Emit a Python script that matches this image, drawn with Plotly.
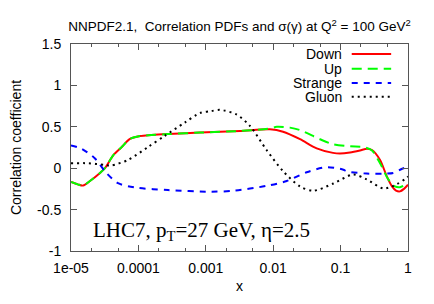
import plotly.graph_objects as go

down_x = [1e-05, 1.26e-05, 1.51e-05, 1.91e-05, 2.69e-05, 3.19e-05, 4.25e-05, 5.57e-05,
          7.5e-05, 0.000106, 0.000155, 0.000275, 0.00082, 0.00324, 0.00897, 0.0140,
          0.0250, 0.0442, 0.0771, 0.098, 0.138, 0.194, 0.247, 0.292, 0.385, 0.483,
          0.579, 0.664, 0.760, 0.871, 1.0]
down_y = [-0.167, -0.195, -0.21, -0.155, -0.057, 0.0, 0.158, 0.25,
          0.353, 0.388, 0.400, 0.412, 0.43, 0.45, 0.47, 0.44,
          0.35, 0.24, 0.185, 0.177, 0.19, 0.215, 0.236, 0.22, 0.10, -0.096,
          -0.22, -0.27, -0.28, -0.25, -0.2]

up_x = [1e-05, 1.26e-05, 1.51e-05, 1.91e-05, 2.69e-05, 3.19e-05, 4.25e-05, 5.57e-05,
        7.5e-05, 0.000106, 0.000155, 0.000275, 0.00082, 0.00324, 0.00897, 0.0113,
        0.0177, 0.0250, 0.0494, 0.0771, 0.138, 0.217, 0.289, 0.385, 0.510,
        0.641, 0.760, 0.957, 1.0]
up_y = [-0.167, -0.195, -0.21, -0.155, -0.057, 0.0, 0.158, 0.25,
        0.353, 0.388, 0.400, 0.412, 0.43, 0.45, 0.48, 0.50,
        0.49, 0.46, 0.35, 0.29, 0.264, 0.256, 0.217, 0.06, -0.135,
        -0.22, -0.23, -0.19, -0.18]

strange_x = [1e-05, 1.42e-05, 2.25e-05, 3.34e-05, 4.98e-05, 8.81e-05, 0.000275,
             0.00121, 0.00256, 0.00802, 0.0159, 0.0314, 0.0622, 0.110, 0.123,
             0.244, 0.431, 0.605, 0.805, 1.0]
strange_y = [0.276, 0.236, 0.12, -0.057, -0.18, -0.233, -0.264,
             -0.284, -0.272, -0.213, -0.155, -0.049, 0.012, -0.018, -0.038,
             -0.065, -0.065, -0.057, -0.01, 0.02]

gluon_x = [1e-05, 1.79e-05, 3.16e-05, 3.96e-05, 7.02e-05, 0.000139, 0.000245,
           0.000486, 0.00082, 0.00121, 0.00163, 0.00287, 0.00453, 0.00802, 0.0141,
           0.025, 0.0394, 0.078, 0.154, 0.244, 0.431, 0.679, 0.957, 1.0]
gluon_y = [0.06, 0.06, 0.04, 0.033, 0.1, 0.256, 0.39,
           0.55, 0.667, 0.69, 0.705, 0.647, 0.51, 0.217, -0.038,
           -0.22, -0.272, -0.185, -0.076, -0.135, -0.245, -0.194, -0.116, -0.1]

series_names = ["Down", "Up", "Strange", "Gluon"]
series_colors = ["#ff0000", "#00ff00", "#0000ff", "#000000"]
series_dash = ["solid", "10px,6px", "6px,6px", "2px,4px"]

x_tickvals = [1e-05, 1e-04, 1e-03, 1e-02, 1e-01, 1]
x_ticktext = ["1e-05", "0.0001", "0.001", "0.01", "0.1", "1"]
y_tickvals = [-1, -0.5, 0, 0.5, 1, 1.5]
y_ticktext = ["-1", "-0.5", "0", "0.5", "1", "1.5"]

xs = [down_x, up_x, strange_x, gluon_x]
ys = [down_y, up_y, strange_y, gluon_y]

SANS = "Liberation Sans, Arial, sans-serif"
fig = go.Figure()
for name, x, y, c, d in zip(series_names, xs, ys, series_colors, series_dash):
    fig.add_trace(go.Scatter(x=x, y=y, mode="lines", name=name, showlegend=False,
                             line=dict(color=c, dash=d, width=2, shape="spline", smoothing=0.8)))

# Gnuplot-style legend: text right-aligned, sample line to its right
leg_y = [0.952, 0.881, 0.812, 0.745]
for name, c, d, ly in zip(series_names, series_colors, series_dash, leg_y):
    fig.add_annotation(x=0.806, y=ly, xref="paper", yref="paper", text=name,
                       showarrow=False, xanchor="right", yanchor="middle", borderpad=0,
                       font=dict(family=SANS, size=14, color="black"))
    fig.add_shape(type="line", xref="paper", yref="paper", x0=0.833, x1=0.950, y0=ly, y1=ly,
                  line=dict(color=c, dash=d, width=2))

fig.add_annotation(x=0.058, y=0.095, xref="paper", yref="paper",
                   text="LHC7, p<sub>T</sub>=27 GeV, η=2.5", showarrow=False,
                   xanchor="left", yanchor="middle",
                   font=dict(family="Liberation Serif, Times New Roman, serif", size=21, color="black"))

axis_common = dict(showline=True, linecolor="#555555", linewidth=1, mirror="ticks",
                   ticks="inside", ticklen=6, tickcolor="#555555", showgrid=False,
                   zeroline=False,
                   tickfont=dict(family=SANS, size=14, color="black"))

fig.update_xaxes(type="log", range=[-5, 0], tickvals=x_tickvals, ticktext=x_ticktext,
                 title=dict(text="x", standoff=6, font=dict(family=SANS, size=14, color="black")),
                 minor=dict(ticks="inside", ticklen=3, tickcolor="#555555", showgrid=False),
                 ticklabelstandoff=4,
                 **axis_common)
fig.update_yaxes(range=[-1, 1.5], tickvals=y_tickvals, ticktext=y_ticktext,
                 title=dict(text="Correlation coefficient", standoff=12,
                            font=dict(family=SANS, size=14, color="black")),
                 ticklabelstandoff=6,
                 **axis_common)

fig.update_layout(
    width=434, height=304,
    margin=dict(l=71, r=26, t=44, b=47),
    paper_bgcolor="white", plot_bgcolor="white",
    title=dict(text="NNPDF2.1,  Correlation PDFs and σ(γ) at Q<sup>2</sup> = 100 GeV<sup>2</sup>",
               x=0.5, xanchor="center", xref="paper", y=0.912, yref="container",
               yanchor="middle",
               font=dict(family=SANS, size=13.5, color="black")),
)

fig.write_html("out.html", config={"displayModeBar": False},
               post_script="document.body.style.margin='0';")
